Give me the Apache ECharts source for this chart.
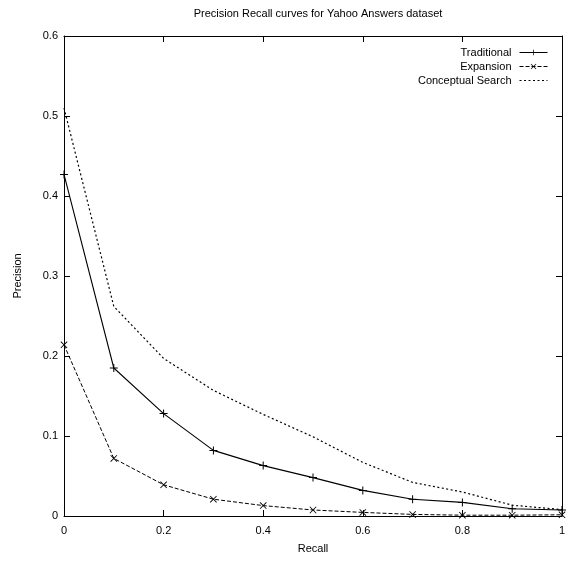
<!DOCTYPE html>
<html>
<head>
<meta charset="utf-8">
<title>Precision Recall curves</title>
<script src="https://cdn.jsdelivr.net/npm/echarts@6/dist/echarts.min.js"></script>
<style>
  html, body { margin: 0; padding: 0; background: #fff; }
  #chart { width: 569px; height: 564px; }
</style>
</head>
<body>
<div id="chart"></div>
<script>
// Recall levels on the x axis
const recall = [0, 0.1, 0.2, 0.3, 0.4, 0.5, 0.6, 0.7, 0.8, 0.9, 1.0];

// Precision at each recall level
const traditional = [0.427, 0.185, 0.128, 0.082, 0.063, 0.048, 0.032, 0.021, 0.017, 0.009, 0.0075];
const expansion   = [0.214, 0.072, 0.039, 0.021, 0.013, 0.0075, 0.0045, 0.002, 0.001, 0.001, 0.0015];
const conceptual  = [0.51, 0.262, 0.197, 0.157, 0.127, 0.099, 0.067, 0.042, 0.030, 0.0135, 0.008];

const seriesNames = ['Traditional', 'Expansion', 'Conceptual Search'];
const xTickLabels = ['0', '0.2', '0.4', '0.6', '0.8', '1'];
const yTickLabels = ['0', '0.1', '0.2', '0.3', '0.4', '0.5', '0.6'];

const FONT = '"Liberation Sans", Arial, Helvetica, sans-serif';
const PLUS = 'path://M0,3.5L8,3.5L8,4.5L0,4.5Z M3.5,0L4.5,0L4.5,8L3.5,8Z';
const CROSS = 'path://M0,0.7L0.7,0L8,7.3L7.3,8Z M7.3,0L8,0.7L0.7,8L0,7.3Z';

const pairs = ys => recall.map((r, i) => [r, ys[i]]);

const tickStyle = { show: true, inside: true, length: 6, lineStyle: { color: '#000', width: 1 } };
const lineStyleAxis = { show: true, onZero: false, lineStyle: { color: '#000', width: 1 } };
const labelText = { color: '#000', fontSize: 11, fontFamily: FONT };

const chart = echarts.init(document.getElementById('chart'), null, { renderer: 'canvas' });

chart.setOption({
  animation: false,
  backgroundColor: '#fff',
  title: {
    text: 'Precision Recall curves for Yahoo Answers dataset',
    left: 313,
    top: 3,
    textAlign: 'center',
    textStyle: { color: '#000', fontSize: 11, fontWeight: 'normal', fontFamily: FONT }
  },
  legend: {
    data: [
      { name: seriesNames[0] },
      { name: seriesNames[1] },
      // dotted sample only, no marker
      { name: seriesNames[2], itemStyle: { opacity: 0 } }
    ],
    orient: 'vertical',
    align: 'right',
    right: 16,
    top: 41,
    itemWidth: 28,
    itemHeight: 7,
    itemGap: 1,
    selectedMode: false,
    lineStyle: { width: 1 },
    textStyle: { color: '#000', fontSize: 11, fontFamily: FONT, lineHeight: 13, padding: [0, 3, 0, 0] }
  },
  grid: { left: 64, right: 7, top: 36, bottom: 48 },
  xAxis: [
    {
      type: 'value', position: 'bottom', min: 0, max: 1, interval: 0.2,
      name: 'Recall', nameLocation: 'middle', nameGap: 27,
      nameTextStyle: labelText,
      axisLine: lineStyleAxis, axisTick: tickStyle, splitLine: { show: false },
      axisLabel: {
        ...labelText, margin: 9,
        formatter: v => xTickLabels[Math.round(v / 0.2)]
      }
    },
    {
      type: 'value', position: 'top', min: 0, max: 1, interval: 0.2,
      axisLine: lineStyleAxis, axisTick: tickStyle, splitLine: { show: false },
      axisLabel: { show: false }
    }
  ],
  yAxis: [
    {
      type: 'value', position: 'left', min: 0, max: 0.6, interval: 0.1,
      name: 'Precision', nameLocation: 'middle', nameGap: 41, nameRotate: 90,
      nameTextStyle: labelText,
      axisLine: lineStyleAxis, axisTick: tickStyle, splitLine: { show: false },
      axisLabel: {
        ...labelText, margin: 6,
        formatter: v => yTickLabels[Math.round(v / 0.1)]
      }
    },
    {
      type: 'value', position: 'right', min: 0, max: 0.6, interval: 0.1,
      axisLine: lineStyleAxis, axisTick: tickStyle, splitLine: { show: false },
      axisLabel: { show: false }
    }
  ],
  series: [
    {
      name: seriesNames[0], type: 'line', data: pairs(traditional),
      xAxisIndex: 0, yAxisIndex: 0,
      symbol: PLUS, symbolSize: 8, showAllSymbol: true,
      itemStyle: { color: '#000' },
      lineStyle: { color: '#000', width: 1.1, type: 'solid' },
      emphasis: { disabled: true }
    },
    {
      name: seriesNames[1], type: 'line', data: pairs(expansion),
      xAxisIndex: 0, yAxisIndex: 0,
      symbol: CROSS, symbolSize: 7, showAllSymbol: true,
      itemStyle: { color: '#000' },
      lineStyle: { color: '#000', width: 1, type: [4, 2] },
      emphasis: { disabled: true }
    },
    {
      name: seriesNames[2], type: 'line', data: pairs(conceptual),
      xAxisIndex: 0, yAxisIndex: 0,
      symbol: 'none',
      itemStyle: { color: '#000' },
      lineStyle: { color: '#000', width: 1.2, type: [2, 2.5] },
      emphasis: { disabled: true }
    }
  ]
});
</script>
</body>
</html>
